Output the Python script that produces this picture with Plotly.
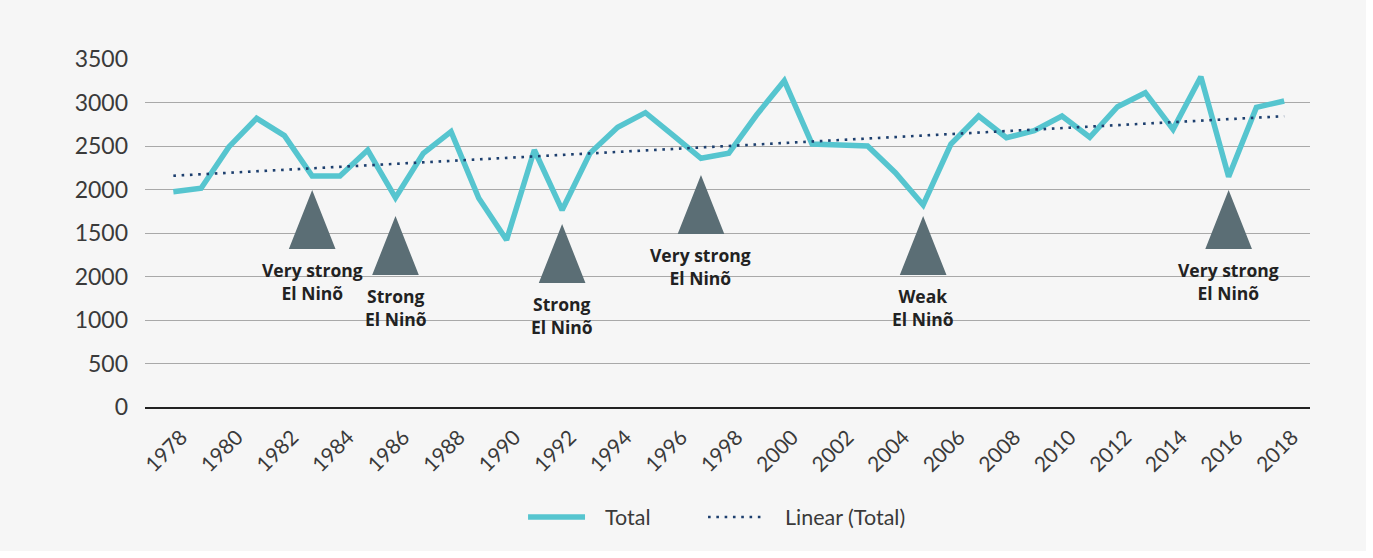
import numpy as np
import plotly.graph_objects as go

# Annual totals, 1978-2018
years = list(range(1978, 2019))
totals = [1975, 2015, 2490, 2818, 2619, 2155, 2155, 2454, 1905, 2416,
          2665, 1899, 1420, 2454, 1764, 2416, 2715, 2883, 2621, 2359,
          2416, 2856, 3251, 2523, 2512, 2500, 2193, 1822, 2523, 2845,
          2595, 2676, 2845, 2600, 2952, 3113, 2692, 3297, 2147, 2944,
          3017]

# El Niño events: year, marker apex height and caption
nino_years = [1983, 1986, 1992, 1997, 2005, 2016]
nino_apex = [1994, 1695, 1603, 2167, 1695, 1994]
nino_labels = ["Very strong<br>El Ninõ", "Strong<br>El Ninõ", "Strong<br>El Ninõ",
               "Very strong<br>El Ninõ", "Weak<br>El Ninõ", "Very strong<br>El Ninõ"]

# Y-axis tick captions, bottom to top
y_tick_labels = ["0", "500", "1000", "2000", "1500", "2000", "2500", "3000", "3500"]
x_tick_years = list(range(1978, 2019, 2))

TEAL = "#56c5cf"
NAVY = "#1d3f6e"
SLATE = "#5b6e75"
GRID = "#a9a9a9"
BG = "#f6f6f6"
TEXT = "#3a3a3a"
FONT = "Lato, 'Noto Sans', sans-serif"
BOLD_FONT = "'Open Sans', Lato, sans-serif"

# Least-squares linear trend of the totals
slope, intercept = np.polyfit(years, totals, 1)
trend = [slope * y + intercept for y in years]

fig = go.Figure()

fig.add_trace(go.Scatter(
    x=years, y=totals, mode="lines", name="Total",
    line=dict(color=TEAL, width=5.5), showlegend=False, hoverinfo="skip"))

fig.add_trace(go.Scatter(
    x=years, y=trend, mode="lines", name="Linear (Total)",
    line=dict(color=NAVY, width=2.6, dash="2.6px,5.7px"),
    showlegend=False, hoverinfo="skip"))

# Triangle markers for El Niño events
half_w = 0.84
tri_h = 678
tx, ty = [], []
for yr, top in zip(nino_years, nino_apex):
    base = top - tri_h
    tx += [yr - half_w, yr, yr + half_w, yr - half_w, None]
    ty += [base, top, base, base, None]
fig.add_trace(go.Scatter(
    x=tx, y=ty, mode="lines", fill="toself", fillcolor=SLATE,
    line=dict(color=SLATE, width=0), showlegend=False, hoverinfo="skip"))

for yr, top, label in zip(nino_years, nino_apex, nino_labels):
    fig.add_annotation(
        x=yr, y=top - tri_h, text=label, showarrow=False,
        xanchor="center", yanchor="top", yshift=-7,
        font=dict(family=BOLD_FONT, size=17.5, color="#222222", weight=700))

y_tick_vals = [3500 - 500 * (len(y_tick_labels) - 1 - i) for i in range(len(y_tick_labels))]

fig.update_xaxes(
    range=[1976.98, 2018.93], tickvals=x_tick_years,
    ticktext=[str(y) for y in x_tick_years], tickangle=-45,
    showgrid=False, zeroline=False, showline=True, linecolor="#222222",
    linewidth=1.5, ticks="", ticklabelstandoff=8, ticklabelshift=8,
    tickfont=dict(family=FONT, size=21, color=TEXT, weight=400))

fig.update_yaxes(
    range=[y_tick_vals[0], y_tick_vals[-1]], tickvals=y_tick_vals,
    ticktext=y_tick_labels, showgrid=True, gridcolor=GRID, gridwidth=1.3,
    zeroline=False, showline=False, ticks="", ticklabelstandoff=16,
    tickfont=dict(family=FONT, size=23, color=TEXT, weight=400))

# Hand-built legend below the axis
fig.add_shape(type="line", xref="paper", yref="paper",
              x0=0.3288, x1=0.3777, y0=-0.316, y1=-0.316,
              line=dict(color=TEAL, width=5.5))
fig.add_annotation(xref="paper", yref="paper", x=0.3931, y=-0.316,
                   text="Total", showarrow=False, xanchor="left", yanchor="middle",
                   font=dict(family=FONT, size=21.5, color=TEXT, weight=400))
fig.add_shape(type="line", xref="paper", yref="paper",
              x0=0.4833, x1=0.5322, y0=-0.316, y1=-0.316,
              line=dict(color=NAVY, width=2.6, dash="2.6px,5.7px"))
fig.add_annotation(xref="paper", yref="paper", x=0.5476, y=-0.316,
                   text="Linear (Total)", showarrow=False, xanchor="left", yanchor="middle",
                   font=dict(family=FONT, size=21.5, color=TEXT, weight=400))

# Grey panel behind the chart
fig.add_shape(type="rect", xref="paper", yref="paper", layer="below",
              x0=-0.1245, x1=1.0481, y0=-0.4138, y1=1.1695,
              fillcolor=BG, line=dict(width=0))

fig.update_layout(
    width=1373, height=558, autosize=False,
    margin=dict(l=145, r=63, t=59, b=151),
    paper_bgcolor="white", plot_bgcolor=BG,
    font=dict(family=FONT),
    showlegend=False)

fig.write_html("out.html")
